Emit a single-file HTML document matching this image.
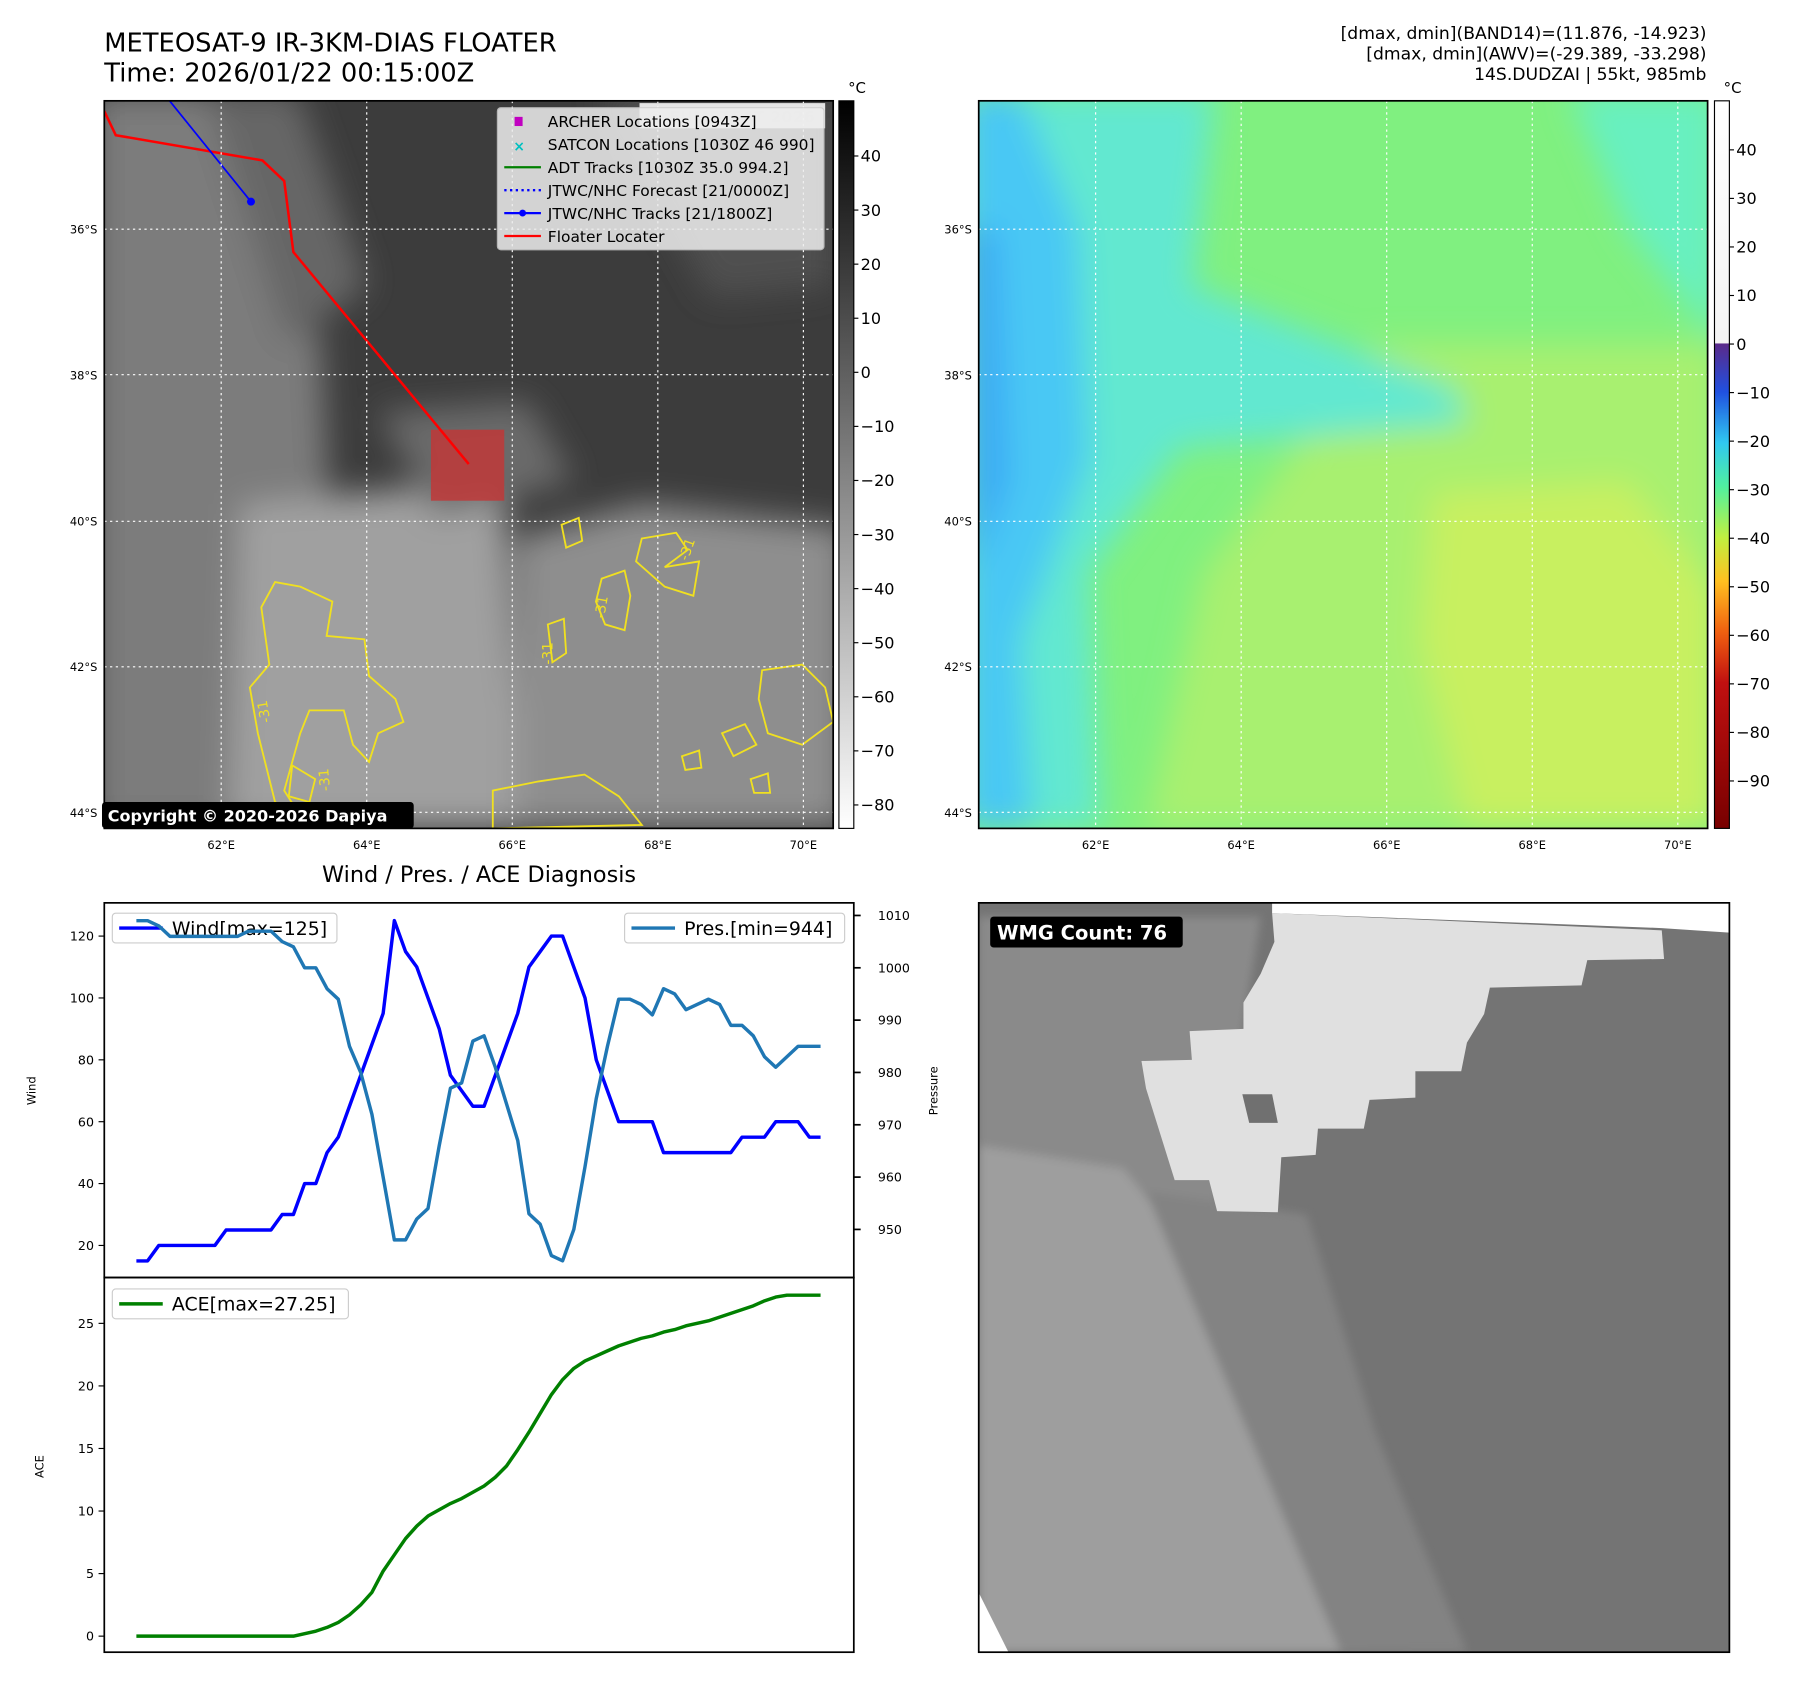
<!DOCTYPE html>
<html><head><meta charset="utf-8">
<style>
html,body{margin:0;padding:0;background:#fff;}
svg{display:block;font-family:"DejaVu Sans","Liberation Sans",sans-serif;}
</style></head>
<body>
<svg id="fig" width="1797" height="1690" viewBox="0 0 1568 1475" preserveAspectRatio="none" xmlns="http://www.w3.org/2000/svg">
<defs>
<filter id="blur8" x="-20%" y="-20%" width="140%" height="140%"><feGaussianBlur stdDeviation="14"/></filter>
<filter id="blur4"><feGaussianBlur stdDeviation="4"/></filter>
<clipPath id="clipL"><rect x="91" y="88" width="636" height="635"/></clipPath>
<clipPath id="clipR"><rect x="854" y="88" width="636" height="635"/></clipPath>
<clipPath id="clipB"><rect x="854" y="788" width="655" height="654"/></clipPath>
<linearGradient id="cbGray" x1="0" y1="0" x2="0" y2="1"><stop offset="0" stop-color="#000"/><stop offset="1" stop-color="#fff"/></linearGradient>
<linearGradient id="cbColor" x1="0" y1="0" x2="0" y2="1">
<stop offset="0" stop-color="#ffffff"/><stop offset="0.333" stop-color="#f4f4f4"/>
<stop offset="0.334" stop-color="#5a2a8a"/><stop offset="0.40" stop-color="#2050e0"/>
<stop offset="0.47" stop-color="#30c8f0"/><stop offset="0.53" stop-color="#50f0a0"/>
<stop offset="0.60" stop-color="#c0f040"/><stop offset="0.66" stop-color="#ffc020"/>
<stop offset="0.73" stop-color="#f06010"/><stop offset="0.80" stop-color="#c01010"/>
<stop offset="1" stop-color="#780000"/></linearGradient>
</defs>

<text x="91" y="45" font-size="22.5">METEOSAT-9 IR-3KM-DIAS FLOATER</text>
<text x="91" y="71" font-size="22.5">Time: 2026/01/22 00:15:00Z</text>
<g font-size="15" text-anchor="end">
<text x="1489" y="34">[dmax, dmin](BAND14)=(11.876, -14.923)</text>
<text x="1489" y="52">[dmax, dmin](AWV)=(-29.389, -33.298)</text>
<text x="1489" y="70">14S.DUDZAI | 55kt, 985mb</text>
</g>

<!-- IR map -->
<g clip-path="url(#clipL)">
<rect x="91" y="88" width="636" height="635" fill="#3c3c3c"/>
<g filter="url(#blur8)">
<polygon points="80,80 190,80 280,300 290,500 200,723 80,723" fill="#7c7c7c"/>
<polygon points="180,80 260,80 320,250 250,300" fill="#666"/>
<polygon points="210,440 440,420 455,723 200,723" fill="#a0a0a0"/>
<polygon points="450,470 560,440 740,460 740,723 450,723" fill="#8e8e8e"/>
<polygon points="520,80 727,80 727,250 620,260" fill="#505050"/>
<polygon points="330,360 460,350 500,420 380,450" fill="#6a6a6a"/>
</g>
</g>
<g clip-path="url(#clipL)" fill="none" stroke="#f0e020" stroke-width="1.6">
<path d="M240,508 L262,512 L290,525 L285,555 L318,558 L322,590 L345,610 L352,630 L330,640 L322,665 L308,650 L300,620 L270,620 L262,640 L255,665 L248,690 L262,712 L240,700 L225,640 L218,600 L235,580 L228,530 Z"/>
<path d="M560,470 L590,465 L600,480 L580,495 L610,490 L605,520 L580,512 L555,490 Z"/>
<path d="M525,505 L545,498 L550,520 L545,550 L528,545 L520,525 Z"/>
<path d="M478,545 L492,540 L494,570 L482,578 Z"/>
<path d="M665,585 L700,580 L720,600 L727,630 L700,650 L670,640 L662,610 Z"/>
<path d="M430,690 L470,682 L510,676 L540,695 L560,720 L430,723 Z"/>
<path d="M630,640 L650,632 L660,650 L640,660 Z"/>
<path d="M595,660 L610,655 L612,670 L598,672 Z"/>
<path d="M655,680 L670,675 L672,692 L658,692 Z"/>
<path d="M490,458 L505,452 L508,472 L494,478 Z"/>
<path d="M255,668 L275,680 L270,700 L252,695 Z"/>
</g>
<g font-size="12" fill="#f0e020">
<text x="600" y="490" transform="rotate(-70 600 490)">-31</text>
<text x="527" y="540" transform="rotate(-80 527 540)">-31</text>
<text x="482" y="580" transform="rotate(-90 482 580)">-31</text>
<text x="236" y="630" transform="rotate(-100 236 630)">-31</text>
<text x="288" y="690" transform="rotate(-95 288 690)">-31</text>
</g>
<rect x="376" y="375" width="64" height="62" fill="#c03838" opacity="0.85"/>
<g clip-path="url(#clipL)">
<polyline points="91,97 101,118 229,140 248,158 256,220 409,405" fill="none" stroke="#ff0000" stroke-width="2.2"/>
<polyline points="148,88 219,176" fill="none" stroke="#0000ff" stroke-width="1.5"/>
<circle cx="219" cy="176" r="3.5" fill="#0000ff"/>
</g>
<g stroke="#fff" stroke-width="1" stroke-dasharray="2,3" clip-path="url(#clipL)">
<line x1="193" y1="88" x2="193" y2="723"/><line x1="320" y1="88" x2="320" y2="723"/><line x1="447" y1="88" x2="447" y2="723"/><line x1="574" y1="88" x2="574" y2="723"/><line x1="701" y1="88" x2="701" y2="723"/>
<line x1="91" y1="200" x2="727" y2="200"/><line x1="91" y1="327" x2="727" y2="327"/><line x1="91" y1="455" x2="727" y2="455"/><line x1="91" y1="582" x2="727" y2="582"/><line x1="91" y1="709" x2="727" y2="709"/>
</g>
<rect x="558" y="90" width="162" height="22" fill="#fff" opacity="0.85"/>
<text x="565" y="107" font-size="14" font-weight="bold" fill="#ddd">© EUMETSAT 2026</text>
<g>
<rect x="434" y="94" width="285" height="124" rx="3" fill="#eee" opacity="0.85" stroke="#ccc"/>
<rect x="449" y="102" width="7" height="8" fill="#c000c0"/>
<text x="448" y="132" font-size="12" fill="#00c0c0" font-weight="bold">×</text>
<line x1="440" y1="146" x2="472" y2="146" stroke="#008000" stroke-width="2"/>
<line x1="440" y1="166" x2="472" y2="166" stroke="#0000ff" stroke-width="2" stroke-dasharray="2,3"/>
<line x1="440" y1="186" x2="472" y2="186" stroke="#0000ff" stroke-width="2"/><circle cx="456" cy="186" r="3" fill="#0000ff"/>
<line x1="440" y1="206" x2="472" y2="206" stroke="#ff0000" stroke-width="2"/>
<g font-size="13.5" fill="#000">
<text x="478" y="111">ARCHER Locations [0943Z]</text>
<text x="478" y="131">SATCON Locations [1030Z 46 990]</text>
<text x="478" y="151">ADT Tracks [1030Z 35.0 994.2]</text>
<text x="478" y="171">JTWC/NHC Forecast [21/0000Z]</text>
<text x="478" y="191">JTWC/NHC Tracks [21/1800Z]</text>
<text x="478" y="211">Floater Locater</text>
</g></g>
<rect x="89" y="700" width="272" height="23" rx="3" fill="#000"/>
<text x="94" y="717" font-size="14" font-weight="bold" fill="#fff">Copyright © 2020-2026 Dapiya</text>
<rect x="91" y="88" width="636" height="635" fill="none" stroke="#000" stroke-width="1.5"/>
<rect x="732" y="88" width="13" height="635" fill="url(#cbGray)" stroke="#000" stroke-width="1"/>
<text x="740" y="81" font-size="13">°C</text>

<!-- AWV map -->
<g clip-path="url(#clipR)">
<rect x="854" y="88" width="636" height="635" fill="#80f080"/>
<g filter="url(#blur8)">
<polygon points="1200,300 1500,300 1500,723 1000,723 1050,500" fill="#a8f070"/>
<polygon points="1250,430 1420,420 1500,520 1500,723 1280,723 1240,560" fill="#c8f060"/>
<polygon points="1370,80 1500,80 1500,300 1420,200" fill="#68f0c0"/>
<polygon points="840,80 1060,80 1040,250 1270,340 1280,370 1030,390 950,500 960,723 840,723" fill="#62e8d0"/>
<polygon points="840,80 890,80 940,200 950,400 890,560 900,723 840,723" fill="#48c8f4"/>
<polygon points="840,200 870,200 880,420 850,500" fill="#3aa8f4"/>
</g>
</g>
<g stroke="#fff" stroke-width="1" stroke-dasharray="2,3" clip-path="url(#clipR)">
<line x1="956" y1="88" x2="956" y2="723"/><line x1="1083" y1="88" x2="1083" y2="723"/><line x1="1210" y1="88" x2="1210" y2="723"/><line x1="1337" y1="88" x2="1337" y2="723"/><line x1="1464" y1="88" x2="1464" y2="723"/>
<line x1="854" y1="200" x2="1490" y2="200"/><line x1="854" y1="327" x2="1490" y2="327"/><line x1="854" y1="455" x2="1490" y2="455"/><line x1="854" y1="582" x2="1490" y2="582"/><line x1="854" y1="709" x2="1490" y2="709"/>
</g>
<rect x="854" y="88" width="636" height="635" fill="none" stroke="#000" stroke-width="1.5"/>
<rect x="1496" y="88" width="13" height="635" fill="url(#cbColor)" stroke="#000" stroke-width="1"/>
<text x="1504" y="81" font-size="13">°C</text>

<g id="mapTicks" font-size="10"></g>

<!-- diagnosis -->
<text x="418" y="770" font-size="19.5" text-anchor="middle">Wind / Pres. / ACE Diagnosis</text>
<g id="chart"></g>
<rect x="91" y="788" width="654" height="327" fill="none" stroke="#000" stroke-width="1.5"/>
<rect x="91" y="1115" width="654" height="327" fill="none" stroke="#000" stroke-width="1.5"/>
<text x="31" y="952" font-size="10" transform="rotate(-90 31 952)" text-anchor="middle">Wind</text>
<text x="818" y="952" font-size="10" transform="rotate(-90 818 952)" text-anchor="middle">Pressure</text>
<text x="38" y="1280" font-size="10" transform="rotate(-90 38 1280)" text-anchor="middle">ACE</text>

<!-- WMG -->
<g clip-path="url(#clipB)">
<rect x="854" y="788" width="655" height="654" fill="#747474"/>
<g filter="url(#blur4)">
<polygon points="854,800 1100,800 1060,1060 1150,1200 1230,1442 854,1442" fill="#8a8a8a"/>
<polygon points="854,1000 980,1020 1060,1120 1140,1300 1190,1442 854,1442" fill="#9e9e9e"/>
<polygon points="1000,1040 1140,1060 1200,1250 1280,1442 1170,1442" fill="#838383"/>
</g>
<polygon points="1110,797 1450,812 1452,837 1385,838 1380,860 1300,862 1295,885 1280,910 1275,935 1235,935 1235,958 1195,960 1190,985 1150,985 1148,1008 1118,1010 1115,1058 1062,1057 1055,1030 1025,1030 1000,950 996,926 1040,925 1038,900 1085,898 1085,875 1100,850 1112,822" fill="#e0e0e0"/>
<polygon points="1084,955 1110,955 1115,980 1090,980" fill="#707070"/>
<polygon points="854,1390 880,1442 854,1442" fill="#fff"/>
<polygon points="1110,788 1509,788 1509,814 1450,810 1110,797" fill="#fff"/>
</g>
<rect x="854" y="788" width="655" height="654" fill="none" stroke="#000" stroke-width="1.5"/>
<rect x="864" y="800" width="168" height="27" rx="3" fill="#000"/>
<text x="870" y="820" font-size="17" font-weight="bold" fill="#fff">WMG Count: 76</text>
</svg>

<script>
// ---- chart data ----
const windValues = [15,15,20,20,20,20,20,20,25,25,25,25,25,30,30,40,40,50,55,65,75,85,95,125,115,110,100,90,75,70,65,65,75,85,95,110,115,120,120,110,100,80,70,60,60,60,60,50,50,50,50,50,50,50,55,55,55,60,60,60,55,55];
const presValues = [1009,1009,1008,1006,1006,1006,1006,1006,1006,1006,1007,1007,1007,1005,1004,1000,1000,996,994,985,980,972,960,948,948,952,954,966,977,978,986,987,981,974,967,953,951,945,944,950,962,975,985,994,994,993,991,996,995,992,993,994,993,989,989,987,983,981,983,985,985,985];
const aceValues = [0,0,0,0,0,0,0,0,0,0,0,0,0,0,0,0.2,0.4,0.7,1.1,1.7,2.5,3.5,5.2,6.5,7.8,8.8,9.6,10.1,10.6,11.0,11.5,12.0,12.7,13.6,14.9,16.3,17.8,19.3,20.5,21.4,22.0,22.4,22.8,23.2,23.5,23.8,24.0,24.3,24.5,24.8,25.0,25.2,25.5,25.8,26.1,26.4,26.8,27.1,27.25,27.25,27.25,27.25];
const windTicks = [20,40,60,80,100,120];
const presTicks = [950,960,970,980,990,1000,1010];
const aceTicks = [0,5,10,15,20,25];
const latLabels = ["36°S","38°S","40°S","42°S","44°S"];
const lonLabels = ["62°E","64°E","66°E","68°E","70°E"];
const irCbTicks = [40,30,20,10,0,-10,-20,-30,-40,-50,-60,-70,-80];
const awvCbTicks = [40,30,20,10,0,-10,-20,-30,-40,-50,-60,-70,-80,-90];

const NS = "http://www.w3.org/2000/svg";
function mk(tag, attrs, parent){const e=document.createElementNS(NS,tag);for(const k in attrs)e.setAttribute(k,attrs[k]);parent.appendChild(e);return e;}
function xi(i){return 119 + i*(716-119)/(windValues.length-1);}
function wy(v){return 1087 - (v-20)*2.7;}
function py(v){return 799 + (1010-v)*4.567;}
function ay(v){return 1428 - v*10.92;}
function lat(i){return 200 + i*127.25;}
function lon(i){return 193 + i*127;}
function irY(v){return 88 + (50.2 - v)*4.72;}
function awvY(v){return 88 + (50.1 - v)*4.237;}

const mt = document.getElementById('mapTicks');
latLabels.forEach((l,i)=>{
  [91,854].forEach(x0=>{
    const t=mk('text',{x:x0-6,y:lat(i)+4,'text-anchor':'end'},mt);t.textContent=l;
    
    
  });
});
lonLabels.forEach((l,i)=>{
  [0,763].forEach(off=>{
    const t=mk('text',{x:lon(i)+off,y:741,'text-anchor':'middle'},mt);t.textContent=l;
    
    
  });
});
irCbTicks.forEach(v=>{
  const y=irY(v);
  mk('line',{x1:745,y1:y,x2:749,y2:y,stroke:'#000'},mt);
  const t=mk('text',{x:751,y:y+5,'font-size':14},mt);t.textContent=v<0?'\u2212'+(-v):v;
  
  
});
awvCbTicks.forEach(v=>{
  const y=awvY(v);
  mk('line',{x1:1509,y1:y,x2:1513,y2:y,stroke:'#000'},mt);
  const t=mk('text',{x:1515,y:y+5,'font-size':14},mt);t.textContent=v<0?'\u2212'+(-v):v;
  
  
});

const ch = document.getElementById('chart');
windTicks.forEach(v=>{
  const y=wy(v);
  mk('line',{x1:86,y1:y,x2:91,y2:y,stroke:'#000'},ch);
  const t=mk('text',{x:82,y:y+4,'font-size':11,'text-anchor':'end'},ch);t.textContent=v;
  
  
});
presTicks.forEach(v=>{
  const y=py(v);
  mk('line',{x1:745,y1:y,x2:751,y2:y,stroke:'#000','stroke-width':1.5},ch);
  const t=mk('text',{x:766,y:y+4,'font-size':11},ch);t.textContent=v;
  
  
});
aceTicks.forEach(v=>{
  const y=ay(v);
  mk('line',{x1:86,y1:y,x2:91,y2:y,stroke:'#000'},ch);
  const t=mk('text',{x:82,y:y+4,'font-size':11,'text-anchor':'end'},ch);t.textContent=v;
  
  
});

// legends
function legend(x,y,w,color,label,name){
  const g=mk('g',{},ch);
  
  
  mk('rect',{x:x,y:y,width:w,height:26,rx:3,fill:'#fff','fill-opacity':0.8,stroke:'#ccc'},g);
  mk('line',{x1:x+6,y1:y+13,x2:x+44,y2:y+13,stroke:color,'stroke-width':3},g);
  const t=mk('text',{x:x+52,y:y+19,'font-size':16.5},g);t.textContent=label;
}
legend(98,797,196,'#0000ff','Wind[max=125]','wind-legend');
legend(545,797,192,'#1f77b4','Pres.[min=944]','pressure-legend');
legend(98,1125,206,'#008000','ACE[max=27.25]','ace-legend');

const wl=mk('polyline',{points:windValues.map((v,i)=>xi(i)+','+wy(v)).join(' '),fill:'none',stroke:'#0000ff','stroke-width':3,'stroke-linejoin':'round'},ch);


const pl=mk('polyline',{points:presValues.map((v,i)=>xi(i)+','+py(v)).join(' '),fill:'none',stroke:'#1f77b4','stroke-width':3,'stroke-linejoin':'round'},ch);


const al=mk('polyline',{points:aceValues.map((v,i)=>xi(i)+','+ay(v)).join(' '),fill:'none',stroke:'#008000','stroke-width':3,'stroke-linejoin':'round'},ch);


</script>
</body></html>
